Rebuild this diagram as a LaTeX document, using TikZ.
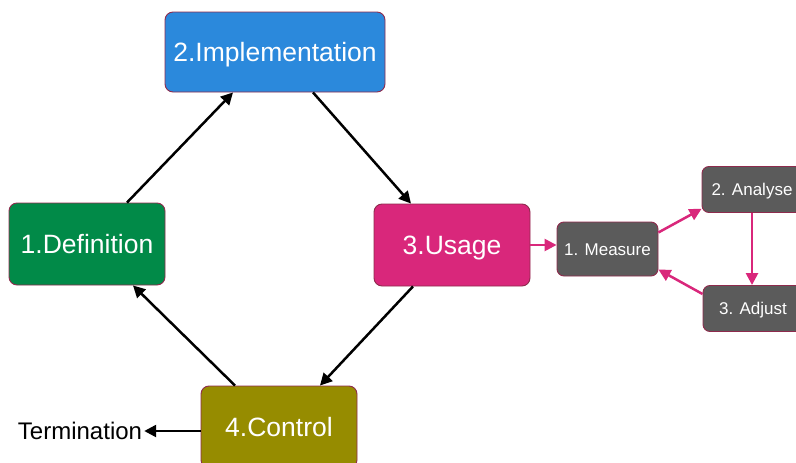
\documentclass[tikz,border=0pt]{standalone}
\usepackage{fontspec}
\setmainfont{Liberation Sans}
\usetikzlibrary{arrows.meta}
\definecolor{implblue}{HTML}{2B89DC}
\definecolor{defgreen}{HTML}{018A48}
\definecolor{usepink}{HTML}{D9277B}
\definecolor{ctrlolive}{HTML}{968C00}
\definecolor{subgrey}{HTML}{5B5B5B}
\definecolor{rim}{HTML}{8E2B4D}
\tikzset{
  phase/.style={draw=rim, line width=0.9pt, rounded corners=8pt, text=white,
    minimum width=156pt, minimum height=82pt, inner sep=0pt,
    text height=19pt, text depth=0pt,
    font=\fontsize{26.5}{31}\selectfont},
  substep/.style={draw=rim, line width=0.9pt, rounded corners=7pt, fill=subgrey,
    text=white, minimum width=100pt, minimum height=46pt, inner sep=0pt,
    text height=12.2pt, text depth=0pt,
    font=\fontsize{17}{20}\selectfont},
  flow/.style={line width=2.5pt, -{Triangle[length=12pt,width=12pt]}},
  pinkflow/.style={line width=2.5pt, draw=usepink, -{Triangle[length=12pt,width=12pt]}, color=usepink}
}
\begin{document}
\begin{tikzpicture}[x=1pt,y=-1pt]
  \useasboundingbox (0,0) rectangle (796,463);
  % main cycle
  \node[phase, fill=implblue, minimum width=220pt, minimum height=80pt] (impl) at (275,52) {2.Implementation};
  \node[phase, fill=defgreen] (def) at (87,244) {1.Definition};
  \node[phase, fill=usepink] (use) at (452,245) {3.Usage};
  \node[phase, fill=ctrlolive] (ctrl) at (279,427) {4.Control};
  \node[font=\fontsize{24}{28}\selectfont, inner sep=0pt, text height=17.2pt, text depth=0pt] (term) at (80,431) {Termination};
  % improvement loop
  \node[substep, minimum width=101pt, minimum height=54pt] (meas) at (607.5,249) {1. Measure};
  \node[substep] (ana) at (752,189.5) {2. Analyse};
  \node[substep] (adj) at (753,308.5) {3. Adjust};
  % cycle arrows
  \draw[flow] ([xshift=40pt]def.north) -- ([xshift=-42pt]impl.south);
  \draw[flow] ([xshift=38pt]impl.south) -- ([xshift=-41pt]use.north);
  \draw[flow] ([xshift=-39pt]use.south) -- ([xshift=41pt]ctrl.north);
  \draw[flow] ([xshift=-44pt]ctrl.north) -- ([xshift=46pt]def.south);
  \draw[flow] (ctrl.west |- term.east) -- ([xshift=2pt]term.east);
  % loop arrows
  \draw[pinkflow] (use.east) -- (meas.west |- use.east);
  \draw[pinkflow] (meas.18) -- (ana.201);
  \draw[pinkflow] (ana.south) -- (ana.south |- adj.north);
  \draw[pinkflow] (adj.164) -- (meas.-22);
\end{tikzpicture}
\end{document}
